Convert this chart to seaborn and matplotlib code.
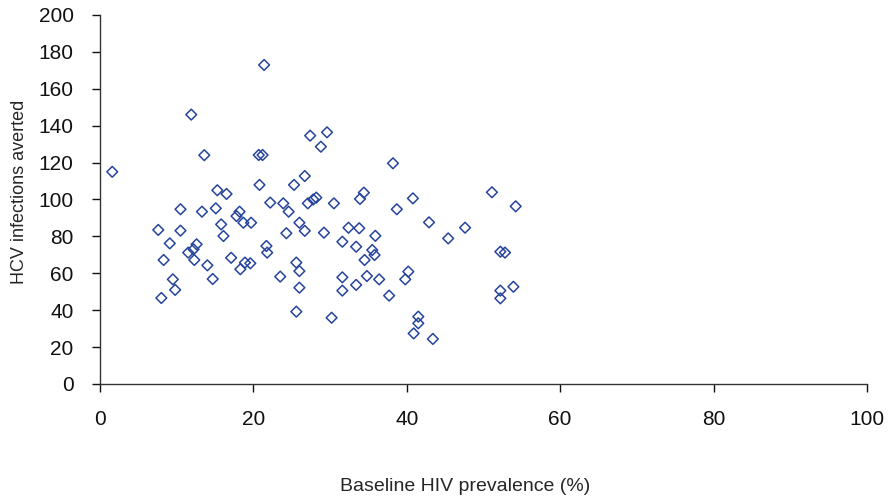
import matplotlib
matplotlib.use("Agg")
import matplotlib.pyplot as plt
import seaborn as sns
import pandas as pd

# --------------------------------------------------
# Data
# --------------------------------------------------
hiv_prevalence = [
    1.6, 7.6, 8.0, 8.3, 9.1, 9.5, 9.8, 10.5, 10.5, 11.9,
    11.5, 12.2, 12.6, 12.3, 13.3, 13.6, 14.0, 14.7, 15.1, 15.3,
    15.8, 16.1, 16.5, 17.1, 17.8, 18.2, 18.7, 19.7, 18.3, 18.9,
    19.6, 20.7, 21.2, 21.4, 20.8, 21.7, 21.8, 22.2, 23.9, 24.6,
    24.3, 23.5, 25.3, 25.6, 26.0, 26.0, 25.6, 26.0, 26.7, 26.7,
    27.1, 27.8, 28.2, 27.4, 29.6, 28.8, 29.2, 30.5, 30.2, 31.6,
    31.6, 31.6, 32.4, 33.8, 33.9, 34.4, 33.4, 33.4, 34.5, 34.8,
    35.5, 35.8, 35.9, 36.4, 37.7, 38.2, 38.7, 39.8, 40.2, 40.8,
    40.9, 41.5, 41.5, 42.9, 43.4, 45.4, 47.6, 51.1, 52.2, 52.8,
    52.2, 52.2, 53.9, 54.2,
]
hcv_averted = [
    115, 83.5, 46.6, 67.2, 76.2, 56.7, 51, 94.7, 83.1, 146,
    71.2, 73, 75.7, 67.2, 93.4, 124, 64.3, 56.9, 95.2, 105,
    86.5, 80.2, 103, 68.4, 91, 93.4, 87.4, 87.4, 62.2, 65.8,
    65.4, 124.1, 124.1, 172.9, 107.9, 74.8, 71.2, 98.3, 97.9, 93.4,
    81.7, 58.2, 107.9, 65.8, 61.2, 52.2, 39.2, 87.4, 83, 112.7,
    97.9, 100, 101, 134.6, 136.4, 128.6, 82, 97.9, 35.9, 77.1,
    57.8, 50.6, 84.7, 84.4, 100.3, 103.7, 74.4, 53.7, 67.2, 58.5,
    72.6, 69.9, 80.3, 56.7, 47.9, 119.6, 94.7, 56.7, 60.9, 100.6,
    27.4, 36.5, 32.9, 87.6, 24.4, 78.9, 84.7, 103.9, 71.7, 71.2,
    50.6, 46.4, 52.7, 96.3,
]
x_ticks = [0, 20, 40, 60, 80, 100]
y_ticks = [0, 20, 40, 60, 80, 100, 120, 140, 160, 180, 200]

df = pd.DataFrame({"hiv": hiv_prevalence, "hcv": hcv_averted})

# --------------------------------------------------
# Style
# --------------------------------------------------
sns.set_style("ticks")
plt.rcParams["font.family"] = ["Liberation Sans", "DejaVu Sans"]

fig = plt.figure(figsize=(8.95, 4.99), dpi=100)
ax = fig.add_axes([0.1117, 0.2305, 0.857, 0.7395])

sns.scatterplot(
    data=df, x="hiv", y="hcv", ax=ax,
    marker="D", s=30, facecolors="none",
    edgecolor="#26449c", linewidth=1.1,
)

ax.set_xlim(0, 100)
ax.set_ylim(0, 200)
ax.set_xticks(x_ticks)
ax.set_yticks(y_ticks)

for side in ["top", "right"]:
    ax.spines[side].set_visible(False)
for side in ["left", "bottom"]:
    ax.spines[side].set_color("#333333")
    ax.spines[side].set_linewidth(1.0)

ax.tick_params(axis="both", labelsize=15, colors="#111111", width=1.0)
ax.tick_params(axis="y", length=6, pad=13)
ax.tick_params(axis="x", length=6, pad=13)

ax.set_xlabel("Baseline HIV prevalence (%)", fontsize=14)
ax.set_ylabel("HCV infections averted", fontsize=13)
ax.xaxis.set_label_coords(0.476, -0.255)
ax.yaxis.set_label_coords(-0.094, 0.52)

fig.savefig("out.png", dpi=100)
plt.close(fig)
